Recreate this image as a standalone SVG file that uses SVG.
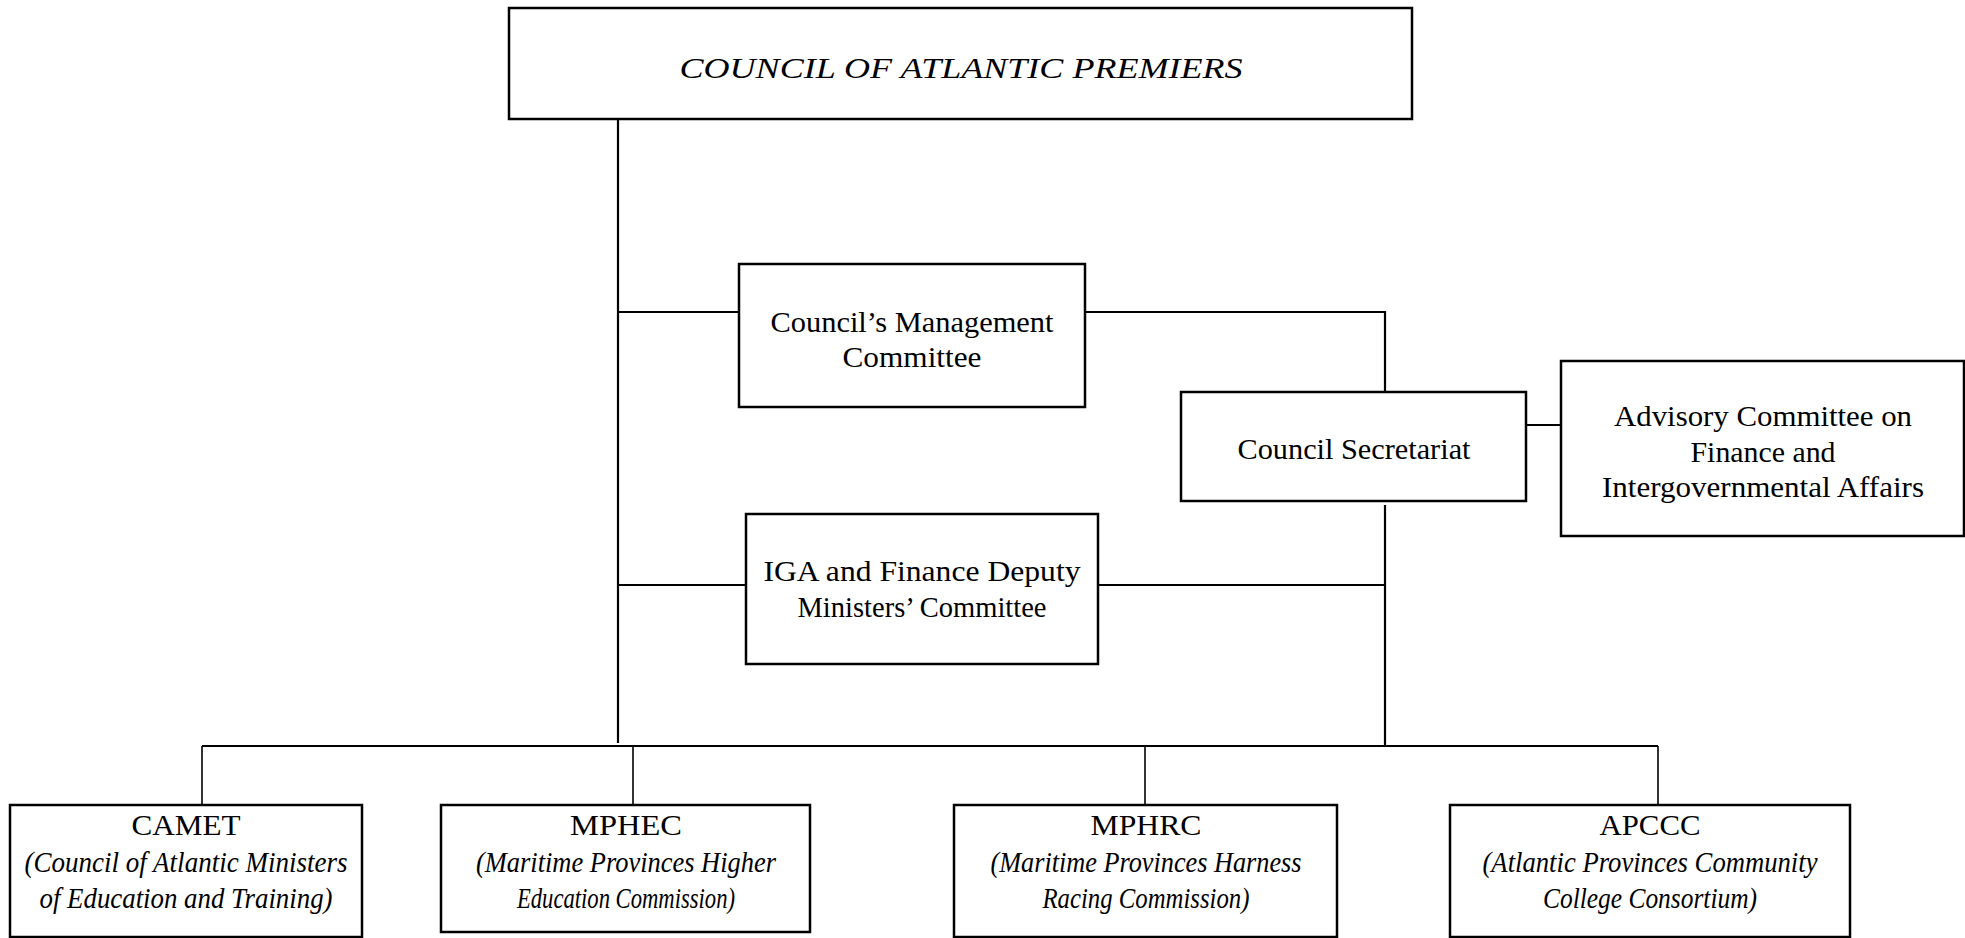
<svg xmlns="http://www.w3.org/2000/svg" width="1965" height="938" viewBox="0 0 1965 938">
<style>
.box{fill:#fff;stroke:#000;stroke-width:2.5}
.t{font-family:"Liberation Serif","Times New Roman",serif;font-size:29px;fill:#000;text-anchor:middle}
.i{font-style:italic}
.c{stroke:#000;stroke-width:2.2;fill:none}
.d{stroke:#000;stroke-width:1.6;fill:none}
</style>
<g id="connectors">
<line class="c" x1="618" y1="119" x2="618" y2="743"/>
<line class="c" x1="618" y1="312" x2="739" y2="312"/>
<polyline class="c" points="1085,312 1385,312 1385,392"/>
<line class="c" x1="1526" y1="425" x2="1561" y2="425"/>
<line class="c" x1="1385" y1="505" x2="1385" y2="746"/>
<line class="c" x1="618" y1="585" x2="746" y2="585"/>
<line class="c" x1="1098" y1="585" x2="1385" y2="585"/>
<line class="c" x1="202" y1="746" x2="1658" y2="746"/>
<line class="d" x1="202" y1="746" x2="202" y2="805"/>
<line class="d" x1="633" y1="746" x2="633" y2="805"/>
<line class="d" x1="1145" y1="746" x2="1145" y2="805"/>
<line class="d" x1="1658" y1="746" x2="1658" y2="805"/>
</g>
<g id="premiers">
<rect class="box" x="509" y="8" width="903" height="111"/>
<text class="t i" x="961" y="78" font-size="36" textLength="563" lengthAdjust="spacingAndGlyphs">COUNCIL OF ATLANTIC PREMIERS</text>
</g>
<g id="management">
<rect class="box" x="739" y="264" width="346" height="143"/>
<text class="t" x="912" y="332" textLength="283" lengthAdjust="spacingAndGlyphs">Council’s Management</text>
<text class="t" x="912" y="367" textLength="139" lengthAdjust="spacingAndGlyphs">Committee</text>
</g>
<g id="secretariat">
<rect class="box" x="1181" y="392" width="345" height="109"/>
<text class="t" x="1354" y="459" textLength="233" lengthAdjust="spacingAndGlyphs">Council Secretariat</text>
</g>
<g id="advisory">
<rect class="box" x="1561" y="361" width="403" height="175"/>
<text class="t" x="1763" y="426" textLength="298" lengthAdjust="spacingAndGlyphs">Advisory Committee on</text>
<text class="t" x="1763" y="462" textLength="145" lengthAdjust="spacingAndGlyphs">Finance and</text>
<text class="t" x="1763" y="497" textLength="322" lengthAdjust="spacingAndGlyphs">Intergovernmental Affairs</text>
</g>
<g id="iga">
<rect class="box" x="746" y="514" width="352" height="150"/>
<text class="t" x="922" y="581" textLength="317" lengthAdjust="spacingAndGlyphs">IGA and Finance Deputy</text>
<text class="t" x="922" y="617" textLength="249" lengthAdjust="spacingAndGlyphs">Ministers’ Committee</text>
</g>
<g id="camet">
<rect class="box" x="10" y="805" width="352" height="132"/>
<text class="t" x="186" y="835" textLength="109" lengthAdjust="spacingAndGlyphs">CAMET</text>
<text class="t i" x="186" y="872" textLength="323" lengthAdjust="spacingAndGlyphs">(Council of Atlantic Ministers</text>
<text class="t i" x="186" y="908" textLength="293" lengthAdjust="spacingAndGlyphs">of Education and Training)</text>
</g>
<g id="mphec">
<rect class="box" x="441" y="805" width="369" height="127"/>
<text class="t" x="626" y="835" textLength="112" lengthAdjust="spacingAndGlyphs">MPHEC</text>
<text class="t i" x="626" y="872" textLength="300" lengthAdjust="spacingAndGlyphs">(Maritime Provinces Higher</text>
<text class="t i" x="626" y="908" textLength="218" lengthAdjust="spacingAndGlyphs">Education Commission)</text>
</g>
<g id="mphrc">
<rect class="box" x="954" y="805" width="383" height="132"/>
<text class="t" x="1146" y="835" textLength="111" lengthAdjust="spacingAndGlyphs">MPHRC</text>
<text class="t i" x="1146" y="872" textLength="311" lengthAdjust="spacingAndGlyphs">(Maritime Provinces Harness</text>
<text class="t i" x="1146" y="908" textLength="207" lengthAdjust="spacingAndGlyphs">Racing Commission)</text>
</g>
<g id="apccc">
<rect class="box" x="1450" y="805" width="400" height="132"/>
<text class="t" x="1650" y="835" textLength="101" lengthAdjust="spacingAndGlyphs">APCCC</text>
<text class="t i" x="1650" y="872" textLength="335" lengthAdjust="spacingAndGlyphs">(Atlantic Provinces Community</text>
<text class="t i" x="1650" y="908" textLength="214" lengthAdjust="spacingAndGlyphs">College Consortium)</text>
</g>
</svg>
